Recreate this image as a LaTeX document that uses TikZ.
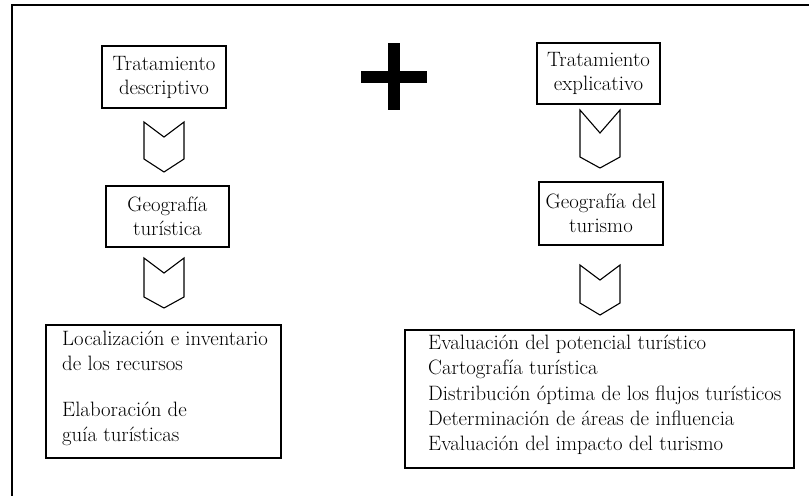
\documentclass[tikz,border=0pt]{standalone}
\usepackage{fontspec}
\begin{document}
\begin{tikzpicture}[x=1pt,y=-1pt,
  box/.style={draw=black, line width=1.5pt, inner sep=0pt},
  lbl/.style={font=\fontsize{20.8}{24}\selectfont, align=center, inner sep=0pt},
  lst/.style={font=\fontsize{20.8}{25.3}\selectfont, align=left, inner sep=0pt, anchor=north west},
  chev/.style={draw=black, line width=1.1pt, line join=miter, fill=white}]
\useasboundingbox (0,0) rectangle (809,496);
% outer frame (only top and left edges inside the picture)
\draw[line width=1.6pt] (809,5) -- (12,5) -- (12,496);
% plus sign
\fill[black] (388.3,43.3) rectangle (400,110);
\fill[black] (361,70.7) rectangle (426.7,82.7);
% left column
\node[box, minimum width=124pt, minimum height=62pt] (td) at (164,77) {};
\node[lbl] (tdt) at (td.center) {Tratamiento\\descriptivo};
\node[box, minimum width=123pt, minimum height=61pt] (gt) at (167.5,216.5) {};
\node[lbl] (gtt) at (gt.center) {Geografía\\turística};
\node[box, minimum width=235pt, minimum height=133pt] (r1) at (163.5,391.5) {};
\node[lst] (r1t) at (62,331) {Localización e inventario\\de los recursos\\[20pt]Elaboración de\\guía turísticas};
% right column
\node[box, minimum width=123pt, minimum height=61pt] (te) at (598.5,73.5) {};
\node[lbl] (tet) at (te.center) {Tratamiento\\explicativo};
\node[box, minimum width=124pt, minimum height=63pt] (gd) at (601,213.5) {};
\node[lbl] (gdt) at (gd.center) {Geografía del\\turismo};
\node[box, minimum width=389pt, minimum height=138pt] (r2) at (599.5,399) {};
\node[lst] (r2t) at (428,335) {Evaluación del potencial turístico\\Cartografía turística\\Distribución óptima de los flujos turísticos\\Determinación de áreas de influencia\\Evaluación del impacto del turismo};
% chevron connectors
\draw[chev] (144,122) -- (164,137) -- (184,122) -- (184,159) -- (164,172) -- (144,159) -- cycle;
\draw[chev] (144,258) -- (164,273) -- (184,258) -- (184,297) -- (164,308) -- (144,297) -- cycle;
\draw[chev] (580,110) -- (600,133) -- (620,110) -- (620,157) -- (600,168) -- (580,157) -- cycle;
\draw[chev] (580,265) -- (600,280) -- (620,265) -- (620,303) -- (600,315) -- (580,303) -- cycle;
\end{tikzpicture}
\end{document}
